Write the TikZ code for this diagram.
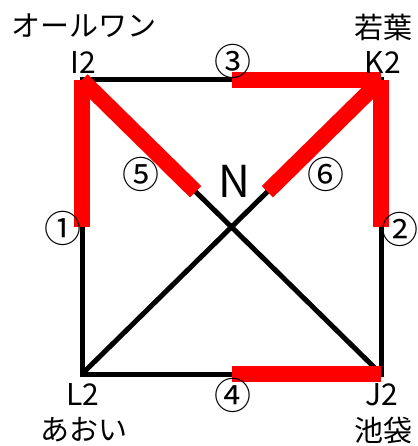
\documentclass[tikz,border=0pt]{standalone}
\usepackage{fontspec}
\setmainfont{Noto Sans CJK JP}
\usepackage{tikz}
\usetikzlibrary{calc,positioning}

\begin{document}
\begin{tikzpicture}[
  x=1pt, y=-1pt,
  font=\fontsize{30}{32}\selectfont,
  edge/.style={line width=5pt, black},
  hot/.style={line width=16pt, red},
  lab/.style={inner sep=0pt, anchor=center},
  place/.style={lab, font=\fontsize{29}{32}\selectfont},
  num/.style={lab, font=\fontsize{37}{40}\selectfont}]
  \useasboundingbox (0,0) rectangle (417,446);
  % stations
  \coordinate (I2) at (82,80);
  \coordinate (K2) at (381,80);
  \coordinate (J2) at (381,374);
  \coordinate (L2) at (82,374);
  % lines
  \draw[edge] (I2) -- (K2) -- (J2) -- (L2) -- cycle;
  \foreach \i/\j in {I2/J2, K2/L2} \draw[edge] (\i) -- (\j);
  % highlighted parts
  \draw[hot] (I2) -- ($(I2)!0.5!(L2)$);
  \draw[hot] ($(I2)!0.5!(K2)$) -- (K2);
  \draw[hot] (K2) -- ($(K2)!0.5!(J2)$);
  \draw[hot] ($(L2)!0.5!(J2)$) -- (J2);
  \draw[hot] (I2) -- ($(I2)!0.38!(J2)$);
  \draw[hot] (K2) -- ($(K2)!0.38!(L2)$);
  % names
  \node[lab] (nI) at (83,63) {I2};
  \node[lab] (nK) at (383,63) {K2};
  \node[lab] (nL) at (83,395) {L2};
  \node[lab] (nJ) at (382,395) {J2};
  \node[place] (tI) at (84,26) {オールワン};
  \node[place] (tK) at (383,27) {若葉};
  \node[place] (tL) at (84,430) {あおい};
  \node[place] (tJ) at (383,430) {池袋};
  \node[lab, font=\fontsize{44}{46}\selectfont] (N) at (234,181) {N};
  % line numbers
  \node[num] (s1) at (63,228) {①};
  \node[num] (s2) at (400,229) {②};
  \node[num] (s3) at (233,61) {③};
  \node[num] (s4) at (233,395) {④};
  \node[num] (s5) at (141,174) {⑤};
  \node[num] (s6) at (326,174) {⑥};
\end{tikzpicture}
\end{document}
